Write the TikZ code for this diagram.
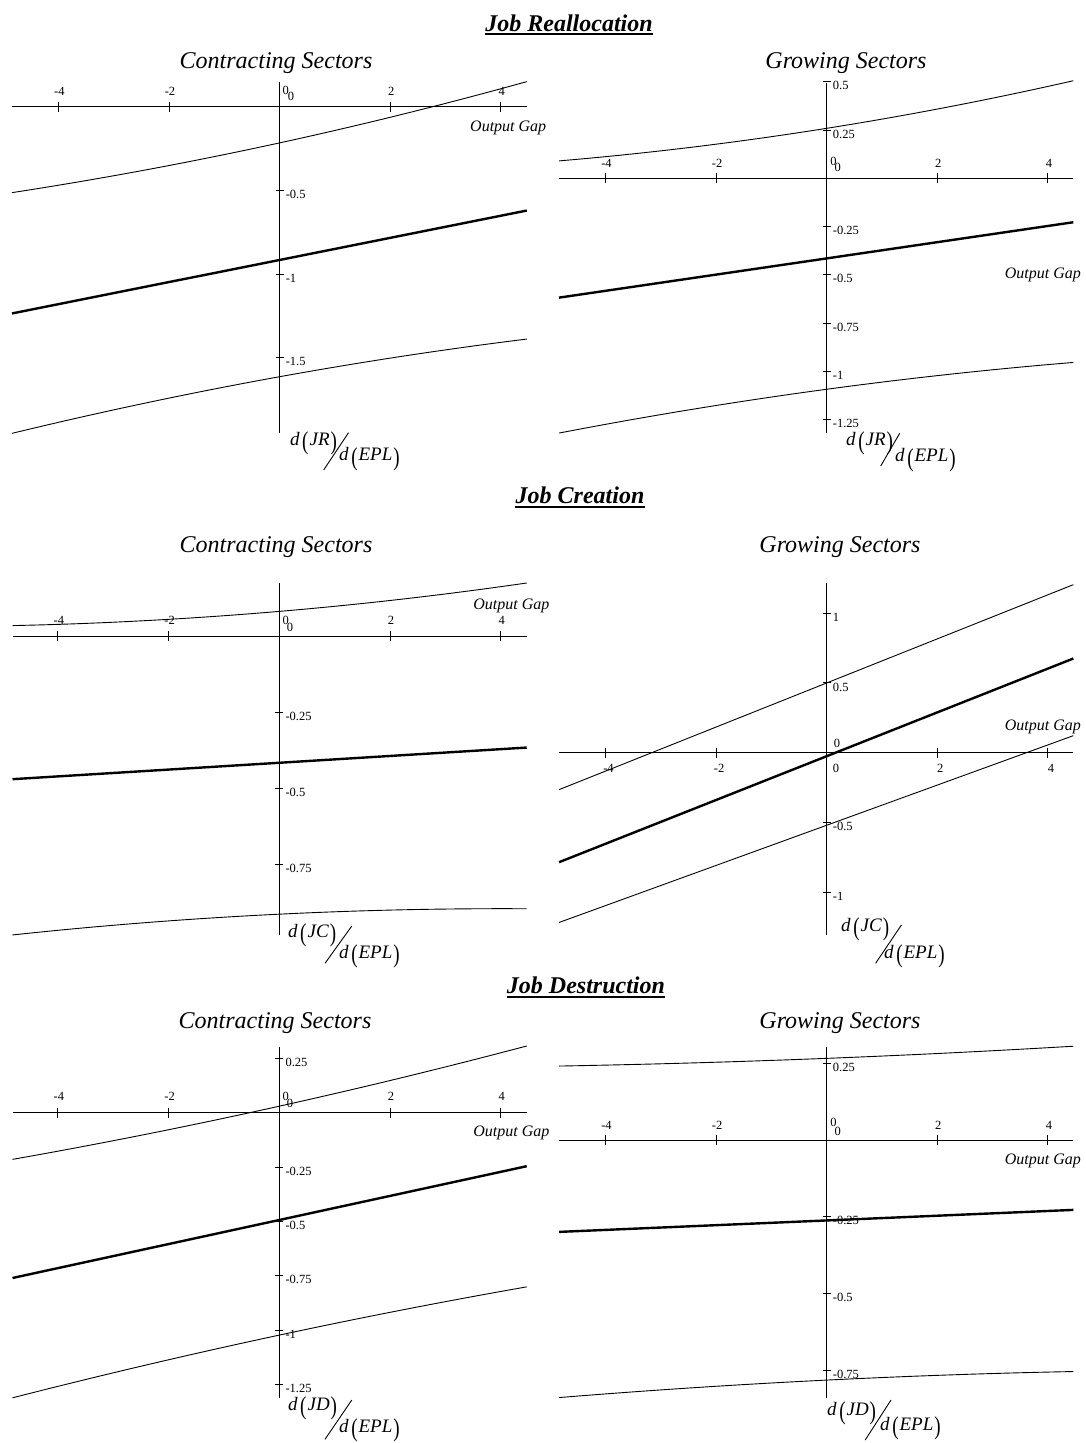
\documentclass[tikz,border=0pt]{standalone}
\usepackage{fontspec}
\setmainfont{Liberation Serif}
\usepackage{graphicx}
\newcommand{\bpar}[1]{\raisebox{-0.22em}{\scalebox{1}[1.35]{\upshape #1}}}
\newcommand{\dlab}[1]{\textit{d}\kern2.5pt\bpar{(}\kern1pt\textit{#1}\kern1pt\bpar{)}}
\begin{document}
\begin{tikzpicture}[x=1pt,y=-1pt,
  axisline/.style={line width=1pt},
  thincurve/.style={line width=0.9pt},
  thickcurve/.style={line width=2.4pt},
  tl/.style={font=\fontsize{12.5}{12.5}\selectfont, inner sep=0pt},
  og/.style={font=\fontsize{16}{16}\selectfont\itshape, inner sep=0pt, anchor=west},
  sub/.style={font=\fontsize{24}{24}\selectfont\itshape, inner sep=0pt, anchor=base},
  ttl/.style={font=\fontsize{24}{24}\selectfont\bfseries\itshape, inner sep=0pt, anchor=base},
  yl/.style={font=\fontsize{19}{19}\selectfont, inner sep=0pt, anchor=west},
  slashline/.style={line width=0.9pt},
  uline/.style={line width=2.4pt}]
\useasboundingbox (0,0) rectangle (1085,1443);

% ---------------- titles ----------------
\node[ttl] (t1) at (569,31) {Job Reallocation};
\draw[uline] ([yshift=-3pt]t1.base west) -- ([yshift=-3pt]t1.base east);
\node[ttl] (t2) at (580,503.5) {Job Creation};
\draw[uline] ([yshift=-3.5pt]t2.base west) -- ([yshift=-3.5pt]t2.base east);
\node[ttl] (t3) at (586,993.3) {Job Destruction};
\draw[uline] ([yshift=-3.5pt]t3.base west) -- ([yshift=-3.5pt]t3.base east);

\node[sub] (s1) at (276,68.5) {Contracting Sectors};
\node[sub] (s2) at (846,68.5) {Growing Sectors};
\node[sub] (s3) at (276,552) {Contracting Sectors};
\node[sub] (s4) at (840,552) {Growing Sectors};
\node[sub] (s5) at (275,1028.3) {Contracting Sectors};
\node[sub] (s6) at (840,1028.3) {Growing Sectors};

% ---------------- panel 1 ----------------
\begin{scope}[shift={(279.6,106.7)},x=55.3pt,y=167.5pt]
\draw[axisline] (-4.84,0) -- (4.47,0);
\draw[axisline] (0,0.149) -- (0,-1.95);
\foreach \t in {-4,-2,0,2,4}{\draw[axisline] (\t,0) ++(0pt,-5pt) -- ++(0pt,10pt);}
\foreach \t/\n in {-4/a,-2/b,2/c,4/d}{\node[tl] (p1x\n) at (\t,0) [xshift=1pt,yshift=15pt] {\t};}
\node[tl] (p1x0) at (0,0) [xshift=6.2pt,yshift=16pt] {0};
\node[tl] (p1y0) at (0,0) [xshift=11.4pt,yshift=10pt] {0};
\foreach \v/\n in {-0.5/a,-1/b,-1.5/c}{\draw[axisline] (0,\v) ++(-4pt,0pt) -- ++(8pt,0pt);
  \node[tl,anchor=west] (p1y\n) at (0,\v) [xshift=6pt,yshift=-4pt] {\v};}
\draw[thincurve] plot[domain=-4.84:4.47,samples=50] (\x,{-0.216+0.072*(\x)+0.0022*(\x)*(\x)});
\draw[thickcurve] plot[domain=-4.84:4.47,samples=20] (\x,{-0.915+0.066*(\x)});
\draw[thincurve] plot[domain=-4.84:4.47,samples=50] (\x,{-1.612+0.0597*(\x)-0.0021*(\x)*(\x)});
\end{scope}
\node[og] (og1) at (470,128.3) {Output Gap};
\node[yl] (n1) at (290,443.3) {\dlab{JR}};
\node[yl] (d1) at (339,459) {\dlab{EPL}};
\coordinate (sa1) at (323.7,470); \coordinate (sb1) at (348.5,432.7);
\draw[slashline] (sa1) -- (sb1);

% ---------------- panel 2 ----------------
\begin{scope}[shift={(826.7,178.3)},x=55.3pt,y=193pt]
\draw[axisline] (-4.84,0) -- (4.46,0);
\draw[axisline] (0,0.495) -- (0,-1.321);
\foreach \t in {-4,-2,0,2,4}{\draw[axisline] (\t,0) ++(0pt,-5pt) -- ++(0pt,10pt);}
\foreach \t/\n in {-4/a,-2/b,2/c,4/d}{\node[tl] (p2x\n) at (\t,0) [xshift=1pt,yshift=15pt] {\t};}
\node[tl] (p2x0) at (0,0) [xshift=6.9pt,yshift=16.6pt] {0};
\node[tl] (p2y0) at (0,0) [xshift=11pt,yshift=11pt] {0};
\foreach \v/\n in {0.5/a,0.25/b,-0.25/c,-0.5/d,-0.75/e,-1/f,-1.25/g}{\draw[axisline] (0,\v) ++(-4pt,0pt) -- ++(8pt,0pt);
  \node[tl,anchor=west] (p2y\n) at (0,\v) [xshift=6pt,yshift=-4pt] {\v};}
\draw[thincurve] plot[domain=-4.84:4.46,samples=50] (\x,{0.259+0.0455*(\x)+0.0022*(\x)*(\x)});
\draw[thickcurve] plot[domain=-4.84:4.46,samples=20] (\x,{-0.415+0.042*(\x)});
\draw[thincurve] plot[domain=-4.84:4.46,samples=50] (\x,{-1.093+0.0387*(\x)-0.0017*(\x)*(\x)});
\end{scope}
\node[og] (og2) at (1004.7,275) {Output Gap};
\node[yl] (n2) at (846,443.3) {\dlab{JR}};
\node[yl] (d2) at (895,460) {\dlab{EPL}};
\coordinate (sa2) at (880.7,466); \coordinate (sb2) at (899.7,433.3);
\draw[slashline] (sa2) -- (sb2);

% ---------------- panel 3 ----------------
\begin{scope}[shift={(279.3,636.3)},x=55.35pt,y=304pt]
\draw[axisline] (-4.82,0) -- (4.47,0);
\draw[axisline] (0,0.174) -- (0,-0.983);
\foreach \t in {-4,-2,0,2,4}{\draw[axisline] (\t,0) ++(0pt,-5pt) -- ++(0pt,10pt);}
\foreach \t/\n in {-4/a,-2/b,2/c,4/d}{\node[tl] (p3x\n) at (\t,0) [xshift=1pt,yshift=15.5pt] {\t};}
\node[tl] (p3x0) at (0,0) [xshift=6.4pt,yshift=16.3pt] {0};
\node[tl] (p3y0) at (0,0) [xshift=10.7pt,yshift=8.6pt] {0};
\foreach \v/\n in {-0.25/a,-0.5/b,-0.75/c}{\draw[axisline] (0,\v) ++(-4pt,0pt) -- ++(8pt,0pt);
  \node[tl,anchor=west] (p3y\n) at (0,\v) [xshift=6pt,yshift=-4pt] {\v};}
\draw[thincurve] plot[domain=-4.82:4.47,samples=50] (\x,{0.082+0.0155*(\x)+0.0012*(\x)*(\x)});
\draw[thickcurve] plot[domain=-4.82:4.47,samples=20] (\x,{-0.416+0.0112*(\x)});
\draw[thincurve] plot[domain=-4.82:4.47,samples=50] (\x,{-0.914+0.0089*(\x)-0.0011*(\x)*(\x)});
\end{scope}
\node[og] (og3) at (473.2,606) {Output Gap};
\node[yl] (n3) at (288,935) {\dlab{JC}};
\node[yl] (d3) at (339,956) {\dlab{EPL}};
\coordinate (sa3) at (325,963.3); \coordinate (sb3) at (351.8,926);
\draw[slashline] (sa3) -- (sb3);

% ---------------- panel 4 ----------------
\begin{scope}[shift={(826.7,752.7)},x=55.3pt,y=139.5pt]
\draw[axisline] (-4.84,0) -- (4.46,0);
\draw[axisline] (0,1.214) -- (0,-1.307);
\foreach \t in {-4,-2,0,2,4}{\draw[axisline] (\t,0) ++(0pt,-5pt) -- ++(0pt,10pt);}
\foreach \t/\n in {-4/a,-2/b,2/c,4/d}{\node[tl] (p4x\n) at (\t,0) [xshift=3pt,yshift=-15.6pt] {\t};}
\node[tl] (p4x0) at (0,0) [xshift=9.3pt,yshift=-15.6pt] {0};
\node[tl] (p4y0) at (0,0) [xshift=10.3pt,yshift=9.4pt] {0};
\foreach \v/\n in {1/a,0.5/b,-0.5/c,-1/d}{\draw[axisline] (0,\v) ++(-4pt,0pt) -- ++(8pt,0pt);
  \node[tl,anchor=west] (p4y\n) at (0,\v) [xshift=6pt,yshift=-4pt] {\v};}
\draw[thincurve] plot[domain=-4.84:4.46,samples=20] (\x,{0.5+0.158*(\x)});
\draw[thickcurve] plot[domain=-4.84:4.46,samples=20] (\x,{-0.025+0.157*(\x)});
\draw[thincurve] plot[domain=-4.84:4.46,samples=20] (\x,{-0.52+0.144*(\x)});
\end{scope}
\node[og] (og4) at (1004.7,726.7) {Output Gap};
\node[yl] (n4) at (841,929) {\dlab{JC}};
\node[yl] (d4) at (884,956) {\dlab{EPL}};
\coordinate (sa4) at (875.6,963.3); \coordinate (sb4) at (901.4,925);
\draw[slashline] (sa4) -- (sb4);

% ---------------- panel 5 ----------------
\begin{scope}[shift={(279.3,1112.7)},x=55.35pt,y=217.6pt]
\draw[axisline] (-4.82,0) -- (4.47,0);
\draw[axisline] (0,0.303) -- (0,-1.3125);
\foreach \t in {-4,-2,0,2,4}{\draw[axisline] (\t,0) ++(0pt,-5pt) -- ++(0pt,10pt);}
\foreach \t/\n in {-4/a,-2/b,2/c,4/d}{\node[tl] (p5x\n) at (\t,0) [xshift=1pt,yshift=16pt] {\t};}
\node[tl] (p5x0) at (0,0) [xshift=6.4pt,yshift=16.7pt] {0};
\node[tl] (p5y0) at (0,0) [xshift=10.7pt,yshift=9.4pt] {0};
\foreach \v/\n in {0.25/a,-0.25/b,-0.5/c,-0.75/d,-1/e,-1.25/f}{\draw[axisline] (0,\v) ++(-4pt,0pt) -- ++(8pt,0pt);
  \node[tl,anchor=west] (p5y\n) at (0,\v) [xshift=6pt,yshift=-4pt] {\v};}
\draw[thincurve] plot[domain=-4.82:4.47,samples=50] (\x,{0.03+0.0565*(\x)+0.0012*(\x)*(\x)});
\draw[thickcurve] plot[domain=-4.82:4.47,samples=20] (\x,{-0.493+0.0553*(\x)});
\draw[thincurve] plot[domain=-4.82:4.47,samples=50] (\x,{-1.022+0.0545*(\x)-0.0011*(\x)*(\x)});
\end{scope}
\node[og] (og5) at (473.2,1133.3) {Output Gap};
\node[yl] (n5) at (288,1408.3) {\dlab{JD}};
\node[yl] (d5) at (339,1430) {\dlab{EPL}};
\coordinate (sa5) at (325,1439.3); \coordinate (sb5) at (351.8,1400);
\draw[slashline] (sa5) -- (sb5);

% ---------------- panel 6 ----------------
\begin{scope}[shift={(826.7,1140)},x=55.3pt,y=307pt]
\draw[axisline] (-4.84,0) -- (4.46,0);
\draw[axisline] (0,0.304) -- (0,-0.841);
\foreach \t in {-4,-2,0,2,4}{\draw[axisline] (\t,0) ++(0pt,-5pt) -- ++(0pt,10pt);}
\foreach \t/\n in {-4/a,-2/b,2/c,4/d}{\node[tl] (p6x\n) at (\t,0) [xshift=1pt,yshift=15pt] {\t};}
\node[tl] (p6x0) at (0,0) [xshift=6.9pt,yshift=17.3pt] {0};
\node[tl] (p6y0) at (0,0) [xshift=11pt,yshift=8.3pt] {0};
\foreach \v/\n in {0.25/a,-0.25/b,-0.5/c,-0.75/d}{\draw[axisline] (0,\v) ++(-4pt,0pt) -- ++(8pt,0pt);
  \node[tl,anchor=west] (p6y\n) at (0,\v) [xshift=6pt,yshift=-4pt] {\v};}
\draw[thincurve] plot[domain=-4.84:4.46,samples=50] (\x,{0.266+0.0071*(\x)+0.0004*(\x)*(\x)});
\draw[thickcurve] plot[domain=-4.84:4.46,samples=20] (\x,{-0.262+0.0077*(\x)});
\draw[thincurve] plot[domain=-4.84:4.46,samples=50] (\x,{-0.782+0.0089*(\x)-0.0006*(\x)*(\x)});
\end{scope}
\node[og] (og6) at (1004.7,1160.7) {Output Gap};
\node[yl] (n6) at (827,1413) {\dlab{JD}};
\node[yl] (d6) at (880,1428) {\dlab{EPL}};
\coordinate (sa6) at (865.2,1440); \coordinate (sb6) at (891,1400);
\draw[slashline] (sa6) -- (sb6);
\end{tikzpicture}
\end{document}
